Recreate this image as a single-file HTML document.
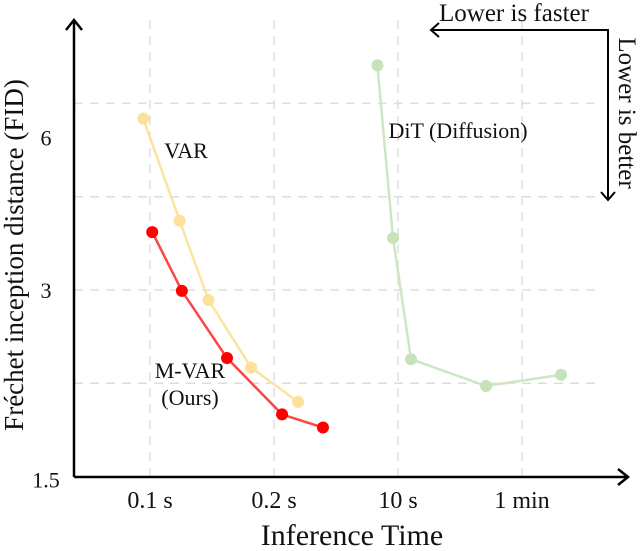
<!DOCTYPE html>
<html><head><meta charset="utf-8"><style>
body{margin:0;background:#fff}
text{font-family:"Liberation Serif",serif;fill:#111}
</style></head><body>
<svg id="chart" width="640" height="546" viewBox="0 0 640 546" xmlns="http://www.w3.org/2000/svg">
<g id="grid"></g>
<g id="series"></g>
<g stroke="#000" stroke-width="2.5" fill="none">
<line x1="74" y1="477" x2="74" y2="20"/>
<polyline points="66,30 74,20 82,30"/>
<line x1="74" y1="477" x2="628" y2="477"/>
<polyline points="618,469 628,477 618,485"/>
</g>
<g stroke="#000" stroke-width="2" fill="none">
<polyline points="608,200 608,30 431,30"/>
<polyline points="439,23 431,30 439,37"/>
<polyline points="601,192 608,200 615,192"/>
</g>
<text x="514" y="21" font-size="25" text-anchor="middle">Lower is faster</text>
<text transform="translate(619,113) rotate(90)" font-size="25" text-anchor="middle">Lower is better</text>
<text x="186" y="158" font-size="22" text-anchor="middle">VAR</text>
<text x="458" y="138" font-size="22" text-anchor="middle">DiT (Diffusion)</text>
<text x="190" y="378" font-size="22" text-anchor="middle">M-VAR</text>
<text x="190" y="405" font-size="22" text-anchor="middle">(Ours)</text>
<g id="xticks"></g>
<g id="yticks"></g>
<text x="352" y="545" font-size="30" text-anchor="middle">Inference Time</text>
<text transform="translate(23,255) rotate(-90)" font-size="27" text-anchor="middle">Fréchet inception distance (FID)</text>
</svg>
<script>
const xTickLabels = ["0.1 s", "0.2 s", "10 s", "1 min"];
const yTickValues = [1.5, 3, 6];
const yTickLabels = ["1.5", "3", "6"];
const varX = [-0.054, 0.239, 0.472, 0.815, 1.194];
const varY = [5.67, 3.88, 2.89, 2.25, 1.98];
const mvarX = [0.018, 0.257, 0.621, 1.065, 1.395];
const mvarY = [3.72, 2.99, 2.33, 1.89, 1.80];
const ditX = [1.834, 1.960, 2.105, 2.710, 3.315];
const ditY = [6.91, 3.64, 2.32, 2.10, 2.19];

const NS = "http://www.w3.org/2000/svg";
function sx(i){ return 150 + 124 * i; }
function sy(v){ return 476.6 - 186.6 * Math.log2(v / 1.5); }
function mk(tag, attrs, parent){
  const e = document.createElementNS(NS, tag);
  for (const k in attrs) e.setAttribute(k, attrs[k]);
  parent.appendChild(e); return e;
}
const grid = document.getElementById("grid");
xTickLabels.forEach((t, i) => {
  const l = mk("line", {x1: sx(i), x2: sx(i), y1: 20, y2: 477, stroke: "#ddd", "stroke-width": 1.5, "stroke-dasharray": "9,7"}, grid);
  
  
  const tx = mk("text", {x: sx(i), y: 508, "font-size": 24, "text-anchor": "middle"}, document.getElementById("xticks"));
  tx.textContent = t;
  
  
});
[1.5 * Math.SQRT2, 3, 3 * Math.SQRT2, 6].forEach(v => {
  const l = mk("line", {x1: 74, x2: 600, y1: sy(v), y2: sy(v), stroke: "#ddd", "stroke-width": 1.5, "stroke-dasharray": "9,7"}, grid);
  
  
});
const yOff = [11, 8, 42];
yTickValues.forEach((v, i) => {
  const tx = mk("text", {x: 46, y: sy(v) + yOff[i], "font-size": 22, "text-anchor": "middle"}, document.getElementById("yticks"));
  tx.textContent = yTickLabels[i];
  
  
});
const series = document.getElementById("series");
function draw(xs, ys, line, dot, name){
  const pl = mk("polyline", {points: xs.map((x, i) => sx(x) + "," + sy(ys[i])).join(" "), fill: "none", stroke: line, "stroke-width": 2.5}, series);
  
  
  xs.forEach((x, i) => {
    const c = mk("circle", {cx: sx(x), cy: sy(ys[i]), r: 6, fill: dot}, series);
    
    
  });
}
draw(varX, varY, "#fde3a0", "#fde09a", "var");
draw(ditX, ditY, "#cfe6c3", "#c6e2b8", "dit");
draw(mvarX, mvarY, "#f44", "#f00", "mvar");
</script>
</body></html>
